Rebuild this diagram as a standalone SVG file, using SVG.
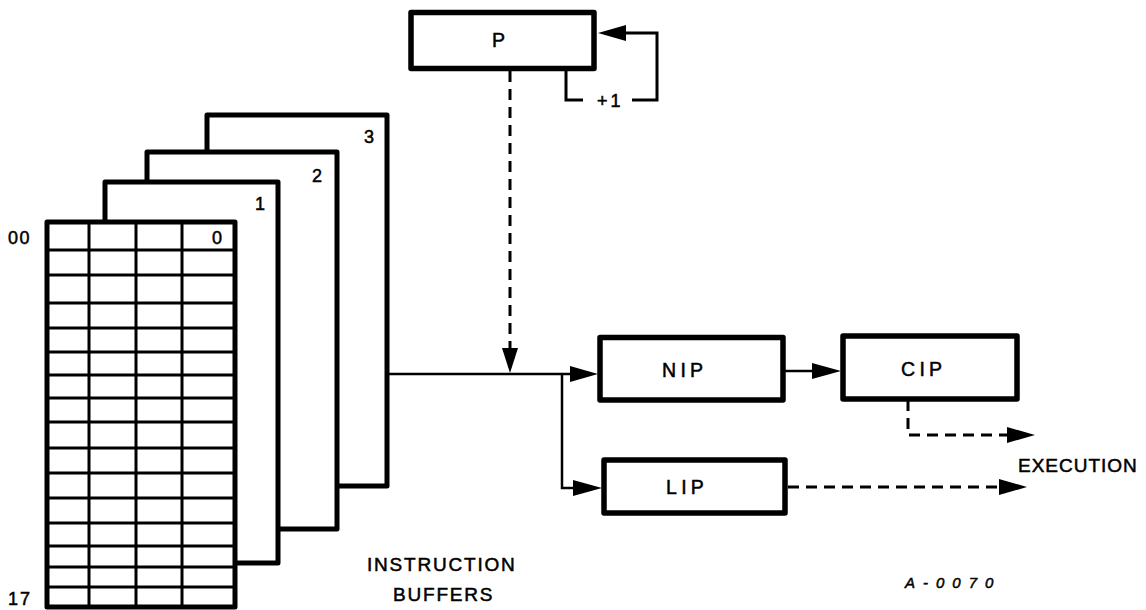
<svg xmlns="http://www.w3.org/2000/svg" width="1146" height="610" viewBox="0 0 1146 610">
<style>
  .box { fill: #fff; stroke: #000; stroke-width: 5.5; stroke-linejoin: round; }
  .buf { fill: #fff; stroke: #000; stroke-width: 5; stroke-linejoin: round; }
  .grid { stroke: #000; stroke-width: 3; fill: none; }
  .ln { stroke: #000; stroke-width: 2.5; fill: none; }
  .lnt { stroke: #000; stroke-width: 3; fill: none; }
  .dash { stroke: #000; stroke-width: 3; fill: none; stroke-dasharray: 11 7; }
  .ah { fill: #000; stroke: none; }
  text { font-family: "Liberation Sans", Arial, sans-serif; fill: #000; stroke: #000; stroke-width: 0.5; }
  .lbl { font-size: 19.5px; letter-spacing: 4.3px; }
  .num { font-size: 18px; }
  .cap { font-size: 19px; letter-spacing: 1.8px; }
</style>

<g id="buffer-3">
  <rect class="buf" x="207" y="115" width="180" height="371"/>
  <text class="num" x="364" y="143">3</text>
</g>
<g id="buffer-2">
  <rect class="buf" x="147" y="152" width="190" height="377"/>
  <text class="num" x="312" y="182">2</text>
</g>
<g id="buffer-1">
  <rect class="buf" x="105" y="182" width="173" height="381"/>
  <text class="num" x="255" y="210">1</text>
</g>
<g id="buffer-0">
  <rect class="buf" x="47" y="222" width="188" height="385"/>
  <path class="grid" d="M89 222V607M136 222V607M182 222V607
    M47 250H235M47 275H235M47 303H235M47 328H235M47 352H235M47 375H235M47 398H235
    M47 422H235M47 448H235M47 473H235M47 498H235M47 523H235M47 546H235M47 567H235M47 587H235"/>
  <text class="num" x="212" y="244">0</text>
  <text class="num" x="8" y="244" letter-spacing="1.5">00</text>
  <text class="num" x="8" y="605" letter-spacing="2">17</text>
</g>
<g id="buffers-label">
  <text class="cap" x="367" y="571">INSTRUCTION</text>
  <text class="cap" x="393" y="601" letter-spacing="1.5">BUFFERS</text>
</g>

<g id="P">
  <rect class="box" x="411" y="12.5" width="183" height="56"/>
  <text class="lbl" x="492" y="47">P</text>
</g>
<g id="NIP">
  <rect class="box" x="600" y="337.5" width="183" height="62.5"/>
  <text class="lbl" x="662" y="377">NIP</text>
</g>
<g id="CIP">
  <rect class="box" x="843" y="336" width="174" height="63"/>
  <text class="lbl" x="901" y="376">CIP</text>
</g>
<g id="LIP">
  <rect class="box" x="604" y="460" width="181" height="53"/>
  <text class="lbl" x="666" y="494">LIP</text>
</g>
<g id="execution-label">
  <text x="1018" y="472" font-size="19" letter-spacing="1">EXECUTION</text>
</g>
<g id="figure-id">
  <text x="905" y="588" font-size="15" font-style="italic" letter-spacing="8">A-0070</text>
</g>

<g id="connectors">
  <!-- P increment loop -->
  <path class="lnt" d="M566 70V100H583M632 100H657V33H622"/>
  <polygon class="ah" points="598,33 626,25 626,41"/>
  <text x="597" y="107" font-size="18" letter-spacing="3">+1</text>
  <!-- P down to bus -->
  <path class="dash" d="M510 71V350"/>
  <polygon class="ah" points="510,373 502,348 518,348"/>
  <!-- buffer bus -->
  <path class="ln" d="M387 374H574"/>
  <polygon class="ah" points="598,374 570,366 570,382"/>
  <path class="ln" d="M562 374V488H576"/>
  <polygon class="ah" points="602,488 573,480 573,496"/>
  <!-- NIP to CIP -->
  <path class="ln" d="M785 371H815"/>
  <polygon class="ah" points="841,371 812,363 812,379"/>
  <!-- CIP to execution -->
  <path class="dash" d="M908 400V435H1010"/>
  <polygon class="ah" points="1035,435 1007,427 1007,443"/>
  <!-- LIP to execution -->
  <path class="dash" d="M788 487H1002"/>
  <polygon class="ah" points="1027,487 999,479 999,495"/>
</g>
</svg>
